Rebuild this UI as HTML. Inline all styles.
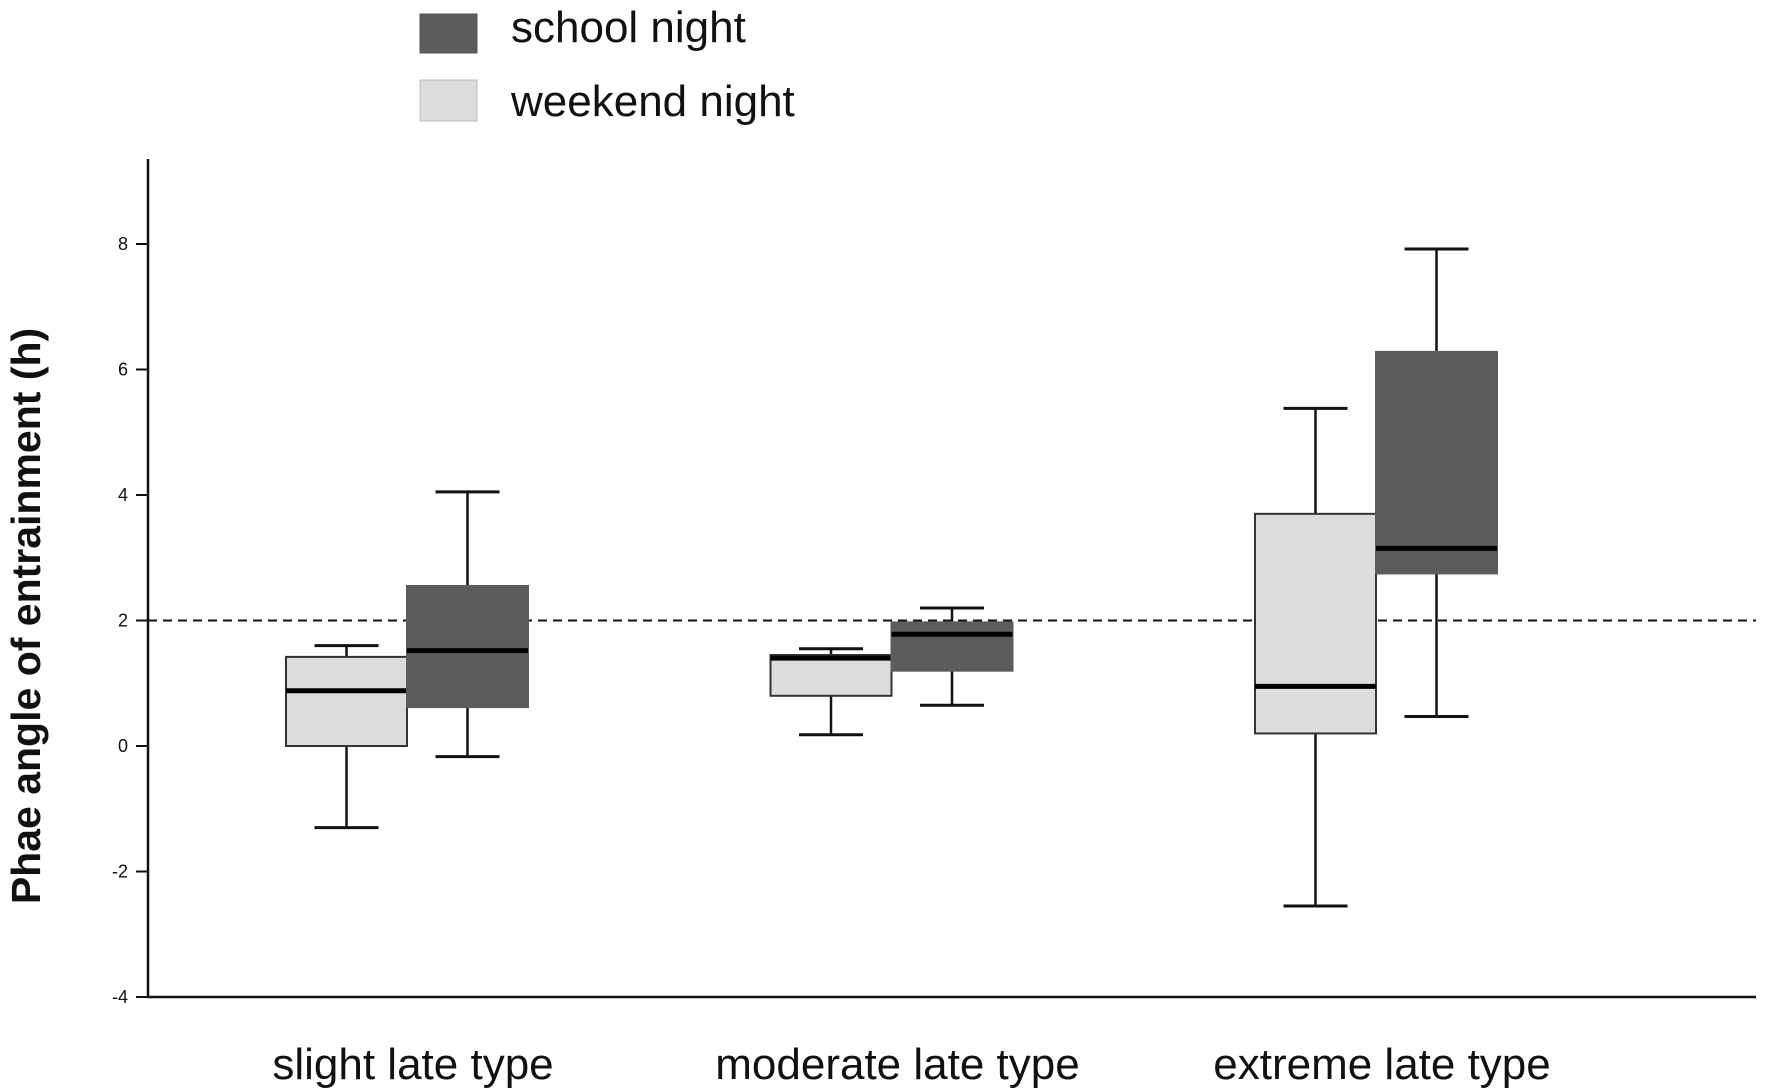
<!DOCTYPE html>
<html><head><meta charset="utf-8"><style>
html,body{margin:0;padding:0;background:#fff;}
svg{display:block;font-family:"Liberation Sans",Arial,sans-serif;}
</style></head><body>
<svg id="chart" width="1772" height="1090" viewBox="0 0 1772 1090">
  <g>
    <rect x="420" y="14" width="57" height="39" fill="#5c5c5c" stroke="#555"/>
    <text x="511" y="42" font-size="44" fill="#111">school night</text>
    <rect x="420" y="80" width="57" height="41" fill="#dcdcdc" stroke="#bbb"/>
    <text x="511" y="116" font-size="44" fill="#111">weekend night</text>
  </g>
  <text transform="translate(40,616) rotate(-90)" text-anchor="middle" font-size="41" font-weight="bold" fill="#111">Phae angle of entrainment (h)</text>
  <g id="axes"></g>
  <g id="marks"></g>
</svg>
<script>
const categories = ["slight late type","moderate late type","extreme late type"];
const yTicks = [-4,-2,0,2,4,6,8];
const weekendLow = [-1.3, 0.18, -2.55];
const weekendQ1 = [0, 0.8, 0.2];
const weekendMedian = [0.88, 1.4, 0.95];
const weekendQ3 = [1.42, 1.45, 3.7];
const weekendHigh = [1.6, 1.55, 5.38];
const schoolLow = [-0.17, 0.65, 0.47];
const schoolQ1 = [0.62, 1.2, 2.75];
const schoolMedian = [1.52, 1.78, 3.15];
const schoolQ3 = [2.55, 1.97, 6.28];
const schoolHigh = [4.05, 2.2, 7.92];
const referenceLine = 2;

const NS = "http://www.w3.org/2000/svg";
const X0 = 148, X1 = 1756, Y0 = 997, YTOP = 159;
function y(v){ return 746 - v * 62.75; }
function xCenter(i){ return 407 + i * 484.5; }
const BW = 121, CAP = 64;
function el(tag, attrs, parent){
  const e = document.createElementNS(NS, tag);
  for (const k in attrs) e.setAttribute(k, attrs[k]);
  parent.appendChild(e); return e;
}
const axes = document.getElementById("axes");
const marks = document.getElementById("marks");

const ya = el("line",{x1:X0,y1:YTOP,x2:X0,y2:Y0+1,stroke:"#111","stroke-width":2.5},axes);


const xa = el("line",{x1:X0-1,y1:Y0,x2:X1,y2:Y0,stroke:"#111","stroke-width":2.5},axes);



yTicks.forEach(t=>{
  const tk = el("line",{x1:X0-12,y1:y(t),x2:X0,y2:y(t),stroke:"#111","stroke-width":2},axes);
  
  
  const lb = el("text",{x:X0-20,y:y(t)+6,"text-anchor":"end","font-size":18,fill:"#111"},axes);
  lb.textContent = t;
  
  
});

categories.forEach((c,i)=>{
  const lb = el("text",{x:xCenter(i)+6,y:1079,"text-anchor":"middle","font-size":44,fill:"#111"},axes);
  lb.textContent = c;
  
  
});

const ref = el("line",{x1:X0,y1:y(referenceLine),x2:X1,y2:y(referenceLine),stroke:"#111","stroke-width":2,"stroke-dasharray":"9,6"},marks);



function box(cx, lo, q1, med, q3, hi, fill, stroke, name){
  const g = el("g",{},marks);
  
  
  el("line",{x1:cx,y1:y(hi),x2:cx,y2:y(q3),stroke:"#111","stroke-width":2.5},g);
  el("line",{x1:cx,y1:y(q1),x2:cx,y2:y(lo),stroke:"#111","stroke-width":2.5},g);
  el("line",{x1:cx-CAP/2,y1:y(hi),x2:cx+CAP/2,y2:y(hi),stroke:"#111","stroke-width":3},g);
  el("line",{x1:cx-CAP/2,y1:y(lo),x2:cx+CAP/2,y2:y(lo),stroke:"#111","stroke-width":3},g);
  el("rect",{x:cx-BW/2,y:y(q3),width:BW,height:y(q1)-y(q3),fill:fill,stroke:stroke,"stroke-width":2},g);
  el("line",{x1:cx-BW/2,y1:y(med),x2:cx+BW/2,y2:y(med),stroke:"#000","stroke-width":5},g);
}
categories.forEach((c,i)=>{
  const cx = xCenter(i);
  box(cx - BW/2, weekendLow[i], weekendQ1[i], weekendMedian[i], weekendQ3[i], weekendHigh[i], "#dcdcdc", "#333", "weekend-box");
  box(cx + BW/2, schoolLow[i], schoolQ1[i], schoolMedian[i], schoolQ3[i], schoolHigh[i], "#5c5c5c", "#5c5c5c", "school-box");
});
</script>
</body></html>
